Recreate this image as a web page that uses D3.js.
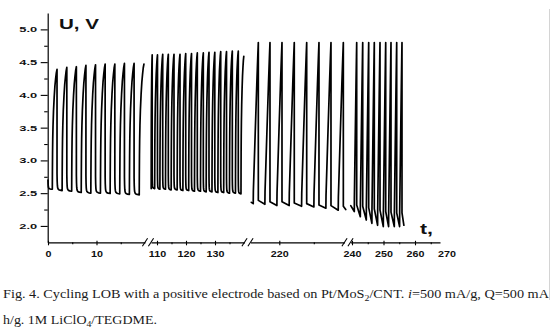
<!DOCTYPE html>
<html>
<head>
<meta charset="utf-8">
<script src="https://cdn.jsdelivr.net/npm/d3@7"></script>
<style>
  html, body { margin: 0; padding: 0; background: #ffffff; }
  svg { display: block; }
</style>
</head>
<body>
<svg id="chart" width="554" height="332"></svg>
<script>
// Galvanostatic cycling of a Li–O2 cell: voltage U (V) against time t (h),
// recorded in four time windows joined by axis breaks.

// ---------- window 1 : 0 – 20 h ----------
const w1Start = [0, 2.70];
const w1PeakT = [1.86, 3.88, 5.85, 7.82, 9.80, 11.78, 13.78, 15.76, 17.75, 19.78];
const w1PeakV = [4.39, 4.42, 4.43, 4.45, 4.46, 4.47, 4.47, 4.48, 4.48, 4.47];
const w1DropV = [2.70, 2.80, 2.79, 2.78, 2.77, 2.76, 2.76, 2.75, 2.75, 2.74];
const w1FloorV = [2.56, 2.54, 2.53, 2.51, 2.50, 2.50, 2.495, 2.49, 2.48, 2.475];
const w1ChargeH = 0.97;

// ---------- window 2 : 108 – 140 h ----------
const w2Start = [108.0, 2.58];
const w2PeakT = [108.34, 110.17, 111.97, 113.90, 115.86, 117.93, 119.90, 121.90, 123.90,
                 125.97, 127.93, 129.93, 131.97, 133.97, 135.97, 138.03, 139.93];
const w2PeakV = [4.61, 4.61, 4.62, 4.62, 4.62, 4.62, 4.63, 4.63, 4.64,
                 4.64, 4.65, 4.65, 4.66, 4.66, 4.67, 4.67, 4.59];
const w2DropV = [2.58, 2.81, 2.80, 2.80, 2.79, 2.79, 2.78, 2.78, 2.77,
                 2.77, 2.76, 2.76, 2.75, 2.75, 2.74, 2.74, 2.73];
const w2FloorV = [2.57, 2.57, 2.56, 2.56, 2.55, 2.55, 2.54, 2.54, 2.53,
                  2.53, 2.52, 2.52, 2.51, 2.51, 2.50, 2.50, 2.49];
const w2ChargeH = 0.97;

// ---------- window 3 : 216 – 230 h (charge cut off at 4.8 V) ----------
const w3Start = [215.95, 2.36];
const w3PeakT = [216.96, 218.65, 220.39, 222.17, 223.97, 225.75, 227.49, 229.28];
const w3PeakV = [4.80, 4.80, 4.80, 4.80, 4.80, 4.80, 4.80, 4.80];
const w3DropV = [2.36, 2.39, 2.37, 2.37, 2.35, 2.34, 2.32, 2.31, 2.30];
const w3FloorV = [2.34, 2.33, 2.31, 2.31, 2.30, 2.29, 2.27, 2.24, 2.25];
const w3ChargeH = 0.74;
const w3TailH = 0.35;

// ---------- window 4 : 240 – 257 h ----------
const w4Start = [239.6, 2.31];
const w4PeakT = [241.49, 243.40, 245.30, 247.08, 248.89, 250.70, 252.38, 254.19, 255.87];
const w4PeakV = [4.80, 4.80, 4.80, 4.80, 4.80, 4.80, 4.80, 4.80, 4.80];
const w4DropV = [2.31, 2.32, 2.30, 2.28, 2.26, 2.24, 2.22, 2.21, 2.20, 2.20];
const w4FloorV = [2.22, 2.14, 2.09, 2.04, 2.01, 1.99, 1.99, 1.99, 1.99, 2.01];
const w4ChargeH = 0.76;
const w4TailH = 0.6;

// Shape of one charge step: [fraction of step time, fraction of voltage rise]
const chargeShapeSoft = [[0, 0], [0.02, 0.15], [0.05, 0.30], [0.09, 0.42], [0.15, 0.53],
                         [0.25, 0.65], [0.40, 0.77], [0.55, 0.86], [0.70, 0.92],
                         [0.85, 0.97], [1, 1]];
const chargeShapeCut = [[0, 0], [0.03, 0.08], [0.10, 0.15], [0.40, 0.45],
                        [0.70, 0.74], [0.90, 0.92], [1, 1]];
// Shape of one discharge step: [fraction of step time, fraction of (drop − floor)]
const dischargeShapeSoft = [[0, 1], [0.03, 0.55], [0.07, 0.30], [0.12, 0.17],
                            [0.20, 0.10], [0.35, 0.05], [0.60, 0.02], [1, 0]];
const dischargeShapeCut = [[0, 1], [1, 0]];

// Axis ticks
const yMajor = [2.0, 2.5, 3.0, 3.5, 4.0, 4.5, 5.0];
const yMinor = [2.25, 2.75, 3.25, 3.75, 4.25, 4.75];
const xMajor = [[0, 10], [110, 120, 130], [220], [240, 250, 260, 270]];
const xMinor = [[5, 15], [115, 125, 135], [225], [245, 255, 265]];

const yLabel = "U, V";
const xLabel = "t,";
const caption1 = [
  { t: "Fig. 4. Cycling LOB with a positive electrode based on Pt/MoS" },
  { t: "2", sub: true },
  { t: "/CNT. " },
  { t: "i", it: true },
  { t: "=500 mA/g, Q=500 mA" }
];
const caption2 = [
  { t: "h/g. 1M LiClO" },
  { t: "4", sub: true },
  { t: "/TEGDME." }
];

// ---------- layout ----------
const svg = d3.select("#chart");
const axisY0 = 242.3;          // pixel row of the time axis
const y = d3.scaleLinear().domain([1.75, 5.25]).range([axisY0, 13]);

// piecewise time axis: anchor value, its pixel, pixels per hour, pixel extent
function windowScale(tAnchor, xAnchor, pxPerH, x0, x1) {
  return d3.scaleLinear()
    .domain([tAnchor + (x0 - xAnchor) / pxPerH, tAnchor + (x1 - xAnchor) / pxPerH])
    .range([x0, x1]);
}
const xs = [
  windowScale(0, 48, 4.85, 48, 145),
  windowScale(110, 157, 2.9, 151, 244.5),
  windowScale(220, 279.3, 6.9, 250.5, 344.5),
  windowScale(240, 352, 3.15, 350.5, 440)
];

const windows = [
  { start: w1Start, peakT: w1PeakT, peakV: w1PeakV, top: w1DropV, end: w1FloorV,
    chargeDur: w1ChargeH, tail: 0, cShape: chargeShapeSoft, dShape: dischargeShapeSoft },
  { start: w2Start, peakT: w2PeakT, peakV: w2PeakV, top: w2DropV, end: w2FloorV,
    chargeDur: w2ChargeH, tail: 0, cShape: chargeShapeSoft, dShape: dischargeShapeSoft },
  { start: w3Start, peakT: w3PeakT, peakV: w3PeakV, top: w3DropV, end: w3FloorV,
    chargeDur: w3ChargeH, tail: w3TailH, cShape: chargeShapeCut, dShape: dischargeShapeCut },
  { start: w4Start, peakT: w4PeakT, peakV: w4PeakV, top: w4DropV, end: w4FloorV,
    chargeDur: w4ChargeH, tail: w4TailH, cShape: chargeShapeCut, dShape: dischargeShapeCut }
];

// Build the (t, U) trace of one window from its cycle values
function windowPoints(w) {
  const pts = [];
  const n = w.peakT.length;
  const pushDischarge = (tA, tB, vTop, vEnd, shape) => {
    if (tB <= tA) { pts.push([tA, vTop]); return; }
    shape.forEach(([u, f]) => pts.push([tA + u * (tB - tA), vEnd + f * (vTop - vEnd)]));
  };
  const pushCharge = (tA, tB, vA, vB, shape) => {
    shape.forEach(([s, f]) => pts.push([tA + s * (tB - tA), vA + f * (vB - vA)]));
  };
  for (let i = 0; i < n; i++) {
    const tA = i === 0 ? w.start[0] : w.peakT[i - 1];
    const cs = Math.max(tA, w.peakT[i] - w.chargeDur);
    const vTop = i === 0 ? w.start[1] : w.top[i];
    pushDischarge(tA, cs, vTop, w.end[i], w.dShape);
    pushCharge(cs, w.peakT[i], w.end[i], w.peakV[i], w.cShape);
  }
  if (w.top.length > n) {
    const tA = w.peakT[n - 1];
    pushDischarge(tA, tA + w.tail, w.top[n], w.end[n], w.dShape);
  }
  return pts;
}

// ---------- traces ----------
const traceG = svg.append("g");
windows.forEach((w, i) => {
  const line = d3.line().x(d => xs[i](d[0])).y(d => y(d[1]));
  traceG.append("path")
    .attr("d", line(windowPoints(w)))
    .attr("fill", "none")
    .attr("stroke", "#000")
    .attr("stroke-width", 1.7)
    .attr("stroke-linejoin", "round")
    .attr("stroke-linecap", "round");
});

// ---------- y axis ----------
const yAxisG = svg.append("g").attr("transform", "translate(47.7,0)");
yAxisG.call(d3.axisLeft(y).tickValues(yMajor).tickSize(7).tickSizeOuter(0)
  .tickPadding(3.5).tickFormat(d3.format(".1f")));
const yMinorG = svg.append("g").attr("transform", "translate(47.7,0)");
yMinorG.call(d3.axisLeft(y).tickValues(yMinor).tickSize(3.5).tickFormat(""));
yMinorG.select(".domain").remove();

yAxisG.selectAll("text")
  .attr("font-family", "'Liberation Sans', Arial, sans-serif")
  .attr("font-weight", "bold")
  .attr("font-size", 7.8)
  .attr("fill", "#111");

// ---------- time axis (broken) ----------
xs.forEach((sc, i) => {
  const [r0, r1] = sc.range();
  const g = svg.append("g").attr("transform", `translate(0,${axisY0})`);
  g.call(d3.axisBottom(sc).tickValues(xMajor[i]).tickSizeInner(3).tickSizeOuter(0)
    .tickPadding(5).tickFormat(d3.format("d")));
  g.selectAll(".tick line").attr("y1", -1.5);
  g.selectAll(".tick").filter(d => sc(d) > r1 + 0.5).select("line").remove();
  g.selectAll("text")
    .attr("font-family", "'Liberation Sans', Arial, sans-serif")
    .attr("font-weight", "bold")
    .attr("font-size", 9.6)
    .attr("fill", "#111");
  const m = svg.append("g").attr("transform", `translate(0,${axisY0})`);
  m.call(d3.axisBottom(sc).tickValues(xMinor[i]).tickSizeInner(2).tickSizeOuter(0).tickFormat(""));
  m.select(".domain").remove();
});

// break marks
const breakG = svg.append("g").attr("stroke", "#000").attr("stroke-width", 1.1);
for (let i = 0; i < xs.length - 1; i++) {
  [xs[i].range()[1], xs[i + 1].range()[0]].forEach(bx => {
    breakG.append("line")
      .attr("x1", bx - 2.6).attr("y1", axisY0 + 4)
      .attr("x2", bx + 2.6).attr("y2", axisY0 - 4);
  });
}

svg.selectAll(".domain").attr("stroke-width", 1.2);
svg.selectAll(".tick line").attr("stroke-width", 1.1);

// horizontally widened tick lettering
function widen(sel, k) {
  sel.each(function () {
    const len = this.getComputedTextLength();
    d3.select(this).attr("textLength", len * k).attr("lengthAdjust", "spacingAndGlyphs");
  });
}
widen(yAxisG.selectAll("text"), 1.65);
widen(svg.selectAll("g text").filter(function () {
  return this.parentNode.parentNode !== yAxisG.node();
}), 1.12);

// ---------- axis titles ----------
svg.append("text").attr("x", 59).attr("y", 29)
  .attr("font-family", "'Liberation Sans', Arial, sans-serif")
  .attr("font-weight", "bold").attr("font-size", 15).attr("fill", "#111")
  .attr("textLength", 40).attr("lengthAdjust", "spacingAndGlyphs")
  .text(yLabel);
svg.append("text").attr("x", 420).attr("y", 234)
  .attr("font-family", "'Liberation Sans', Arial, sans-serif")
  .attr("font-weight", "bold").attr("font-size", 15).attr("fill", "#111")
  .attr("textLength", 13).attr("lengthAdjust", "spacingAndGlyphs")
  .text(xLabel);

// ---------- caption ----------
function captionLine(parts, x, yb, width) {
  const t = svg.append("text").attr("x", x).attr("y", yb)
    .attr("font-family", "'Liberation Serif', 'Times New Roman', serif")
    .attr("font-size", 13).attr("fill", "#1a1a1a");
  let shifted = false;
  parts.forEach(p => {
    const s = t.append("tspan").text(p.t);
    if (p.it) s.attr("font-style", "italic");
    if (p.sub) { s.attr("font-size", 9).attr("dy", 3); shifted = true; }
    else if (shifted) { s.attr("dy", -3); shifted = false; }
  });
  if (width) t.attr("textLength", width).attr("lengthAdjust", "spacingAndGlyphs");
  return t;
}
captionLine(caption1, 3, 298, 546);
captionLine(caption2, 3, 324, 154);

// page edge rule on the right
svg.append("line").attr("x1", 549.5).attr("x2", 549.5).attr("y1", 9).attr("y2", 300)
  .attr("stroke", "#d4d4d4").attr("stroke-width", 1);
</script>
</body>
</html>
